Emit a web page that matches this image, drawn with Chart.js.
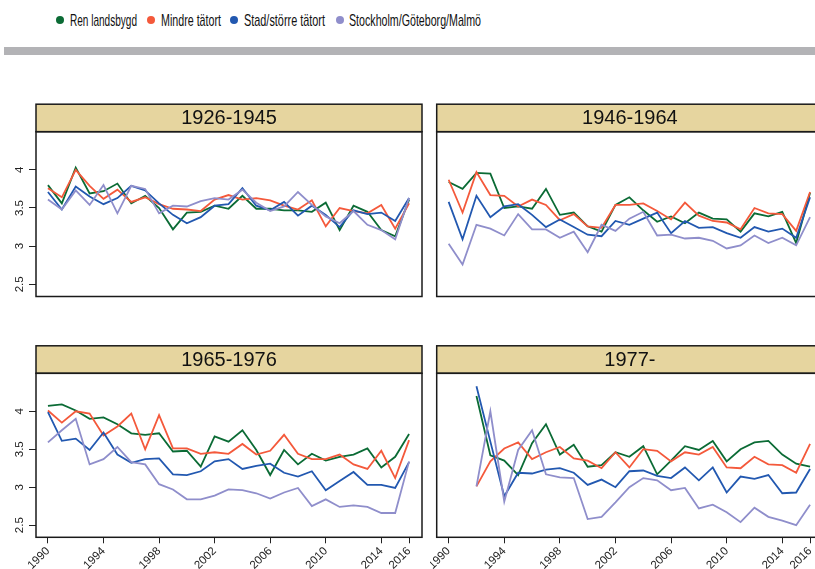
<!DOCTYPE html>
<html><head><meta charset="utf-8">
<script src="https://cdn.jsdelivr.net/npm/chart.js@4"></script>
<style>
html,body{margin:0;padding:0;background:#fff;width:815px;height:569px;overflow:hidden;position:relative}
#legend{position:absolute;left:0;top:0;width:815px;height:40px;font-family:"Liberation Sans Narrow","Liberation Sans",sans-serif;font-size:17px;color:#111;white-space:nowrap}
.dot{position:absolute;width:8px;height:8px;border-radius:50%;top:16px}
.txt{position:absolute;top:10px;line-height:21px;transform-origin:0 50%;display:inline-block}
#bar{position:absolute;left:4px;top:47px;width:811px;height:8px;background:#b3b3b6}
.wrap{position:absolute}
</style></head>
<body>
<div id="legend"></div>
<div id="bar"></div>
<div class="wrap" style="left:0;top:95px"><canvas id="c1" width="430" height="215"></canvas></div>
<div class="wrap" style="left:430px;top:95px"><canvas id="c2" width="400" height="215"></canvas></div>
<div class="wrap" style="left:0;top:335px"><canvas id="c3" width="430" height="234"></canvas></div>
<div class="wrap" style="left:430px;top:335px"><canvas id="c4" width="400" height="234"></canvas></div>
<script>
// ---- data ----
const YEARS = [1990,1991,1992,1993,1994,1995,1996,1997,1998,1999,2000,2001,2002,2003,2004,2005,2006,2007,2008,2009,2010,2011,2012,2013,2014,2015,2016];
const X_TICKS = [1990,1994,1998,2002,2006,2010,2014,2016];
const Y_TICKS = [2.5,3,3.5,4];
const SERIES_NAMES = ["Ren landsbygd","Mindre tätort","Stad/större tätort","Stockholm/Göteborg/Malmö"];
const PANEL_TITLES = ["1926-1945","1946-1964","1965-1976","1977-"];

const p1926_ren   = [3.80,3.56,4.03,3.69,3.72,3.82,3.56,3.66,3.50,3.22,3.44,3.45,3.53,3.49,3.66,3.49,3.49,3.47,3.47,3.45,3.57,3.21,3.53,3.45,3.21,3.13,3.61];
const p1926_mindre= [3.76,3.64,4.00,3.79,3.62,3.74,3.58,3.64,3.55,3.49,3.48,3.46,3.61,3.67,3.61,3.63,3.60,3.53,3.48,3.60,3.26,3.50,3.46,3.43,3.54,3.23,3.56];
const p1926_stad  = [3.71,3.48,3.78,3.65,3.55,3.63,3.79,3.73,3.56,3.41,3.30,3.38,3.53,3.55,3.76,3.53,3.47,3.58,3.40,3.53,3.41,3.25,3.47,3.42,3.44,3.33,3.63];
const p1926_storst= [3.61,3.48,3.73,3.54,3.80,3.43,3.79,3.75,3.43,3.53,3.52,3.59,3.63,3.61,3.74,3.57,3.46,3.52,3.71,3.54,3.39,3.30,3.46,3.28,3.21,3.09,3.63];

const p1946_ren   = [3.84,3.75,3.96,3.95,3.50,3.52,3.49,3.75,3.41,3.44,3.26,3.19,3.54,3.64,3.47,3.32,3.39,3.30,3.44,3.36,3.35,3.19,3.43,3.39,3.45,3.04,3.70];
const p1946_mindre= [3.87,3.44,3.97,3.67,3.66,3.52,3.61,3.54,3.34,3.42,3.26,3.24,3.54,3.54,3.56,3.46,3.35,3.57,3.40,3.33,3.31,3.22,3.50,3.43,3.42,3.20,3.71];
const p1946_stad  = [3.58,3.09,3.66,3.38,3.52,3.55,3.41,3.25,3.35,3.25,3.15,3.13,3.33,3.28,3.36,3.44,3.17,3.33,3.24,3.25,3.17,3.11,3.25,3.19,3.23,3.11,3.64];
const p1946_storst= [3.03,2.76,3.28,3.23,3.14,3.42,3.22,3.22,3.11,3.19,2.92,3.28,3.20,3.36,3.45,3.14,3.15,3.10,3.11,3.07,2.97,3.01,3.14,3.04,3.11,3.01,3.38];

const p1965_ren   = [4.07,4.09,4.01,3.90,3.92,3.83,3.71,3.69,3.71,3.47,3.48,3.27,3.67,3.60,3.75,3.49,3.16,3.49,3.30,3.44,3.35,3.40,3.43,3.51,3.26,3.40,3.70];
const p1965_mindre= [4.01,3.85,4.00,3.97,3.68,3.80,3.97,3.50,3.95,3.51,3.51,3.44,3.46,3.44,3.57,3.43,3.48,3.69,3.44,3.37,3.37,3.43,3.30,3.24,3.48,3.12,3.62];
const p1965_stad  = [3.99,3.61,3.64,3.49,3.72,3.43,3.32,3.37,3.38,3.17,3.16,3.21,3.34,3.37,3.24,3.28,3.31,3.19,3.14,3.21,2.96,3.08,3.20,3.03,3.03,2.99,3.33];
const p1965_storst= [3.59,3.75,3.90,3.30,3.37,3.53,3.33,3.30,3.04,2.97,2.84,2.84,2.89,2.97,2.96,2.92,2.85,2.93,2.99,2.75,2.84,2.74,2.76,2.74,2.66,2.66,3.34];

const p1977_ren   = [null,null,4.20,3.42,3.35,3.16,3.58,3.83,3.43,3.56,3.27,3.29,3.46,3.40,3.54,3.17,3.35,3.54,3.49,3.61,3.34,3.50,3.59,3.61,3.43,3.31,3.27];
const p1977_mindre= [null,null,3.01,3.34,3.51,3.59,3.37,3.46,3.53,3.38,3.35,3.25,3.46,3.26,3.50,3.48,3.34,3.46,3.43,3.53,3.26,3.25,3.40,3.30,3.29,3.19,3.57];
const p1977_stad  = [null,null,4.33,3.60,2.88,3.19,3.18,3.23,3.25,3.19,3.03,3.10,3.00,3.21,3.22,3.15,3.12,3.26,3.09,3.26,2.93,3.14,3.11,3.16,2.92,2.93,3.24];
const p1977_storst= [null,null,3.01,4.00,2.81,3.49,3.75,3.17,3.13,3.12,2.58,2.61,2.80,3.00,3.12,3.09,2.96,2.99,2.72,2.77,2.67,2.54,2.73,2.61,2.56,2.50,2.77];

// ---- styles / layout ----
const COLORS = ["#0b6b35","#f4593b","#2258b0","#8f8ecb"];
const FONT = '"Liberation Sans", Arial, sans-serif';
const X_MIN = 1989.14, X_MAX = 2016.93, Y_MIN = 2.34, Y_MAX = 4.5;
const LEG_DOT_X = [56, 147, 230, 336];
const LEG_TXT_X = [70, 161, 244, 349];
const LEG_TXT_W = [67, 60, 81, 132];

// legend
const leg = document.getElementById('legend');
SERIES_NAMES.forEach((n,i)=>{
  const d = document.createElement('span'); d.className='dot';
  d.style.background = COLORS[i]; d.style.left = LEG_DOT_X[i] + 'px';
  const t = document.createElement('span'); t.className='txt'; t.textContent = n;
  t.style.left = LEG_TXT_X[i] + 'px';
  leg.appendChild(d); leg.appendChild(t);
  const w = t.getBoundingClientRect().width;
  t.style.transform = 'scaleX(' + (LEG_TXT_W[i] / w) + ')';
});

const stripPlugin = {
  id: 'strip',
  afterDraw(chart, args, opts) {
    const {ctx, chartArea: a} = chart;
    const h = 27.5;
    ctx.save();
    ctx.fillStyle = '#e6d59f';
    ctx.fillRect(a.left, a.top - h, a.right - a.left, h);
    ctx.strokeStyle = '#1a1a1a'; ctx.lineWidth = 1.5;
    ctx.strokeRect(a.left, a.top - h, a.right - a.left, h);
    ctx.strokeRect(a.left, a.top, a.right - a.left, a.bottom - a.top);
    ctx.fillStyle = '#111';
    ctx.font = '20px ' + FONT;
    ctx.textAlign = 'center'; ctx.textBaseline = 'middle';
    ctx.fillText(opts.text, (a.left + a.right) / 2, a.top - h / 2 + 1);
    ctx.restore();
  }
};

function makeChart(id, title, series, showX, showY, pad, xH) {
  const datasets = series.map((vals, i) => ({
    label: SERIES_NAMES[i],
    data: YEARS.map((yr, j) => ({x: yr, y: vals[j]})),
    borderColor: COLORS[i],
    backgroundColor: COLORS[i],
    borderWidth: 1.8,
    pointRadius: 0,
    tension: 0,
    spanGaps: false,
    order: 4 - i
  }));
  new Chart(document.getElementById(id), {
    type: 'line',
    data: {datasets},
    plugins: [stripPlugin],
    options: {
      responsive: false,
      animation: false,
      events: [],
      layout: {padding: pad},
      plugins: {legend: {display: false}, tooltip: {enabled: false}, strip: {text: title}},
      scales: {
        x: {
          type: 'linear', min: X_MIN, max: X_MAX, display: showX,
          afterBuildTicks: s => { s.ticks = X_TICKS.map(v => ({value: v})); },
          afterFit: s => { if (showX) { s.height = xH; } s.paddingLeft = 0; s.paddingRight = 0; },
          ticks: {minRotation: 45, maxRotation: 45, autoSkip: false, padding: 1,
                  font: {family: FONT, size: 11.5}, color: '#222', callback: v => String(v)},
          grid: {drawOnChartArea: false, tickLength: 6, color: '#222', lineWidth: 1},
          border: {display: false}
        },
        y: {
          type: 'linear', min: Y_MIN, max: Y_MAX, display: showY,
          afterBuildTicks: s => { s.ticks = Y_TICKS.map(v => ({value: v})); },
          afterFit: s => { if (showY) { s.width = 36; } s.paddingTop = 0; s.paddingBottom = 0; },
          ticks: {minRotation: 90, maxRotation: 90, crossAlign: 'center', padding: 1,
                  font: {family: FONT, size: 11.5}, color: '#222', callback: v => String(v)},
          grid: {drawOnChartArea: false, tickLength: 7, color: '#222', lineWidth: 1},
          border: {display: false}
        }
      }
    }
  });
}

makeChart('c1', PANEL_TITLES[0], [p1926_ren,p1926_mindre,p1926_stad,p1926_storst], false, true, {top:36.7,right:8,bottom:13.5,left:0}, 0);
makeChart('c2', PANEL_TITLES[1], [p1946_ren,p1946_mindre,p1946_stad,p1946_storst], false, false, {top:36.7,right:7,bottom:13.5,left:6.7}, 0);
makeChart('c3', PANEL_TITLES[2], [p1965_ren,p1965_mindre,p1965_stad,p1965_storst], true, true, {top:38.3,right:8,bottom:0,left:0}, 31.7);
makeChart('c4', PANEL_TITLES[3], [p1977_ren,p1977_mindre,p1977_stad,p1977_storst], true, false, {top:38.3,right:7,bottom:0,left:6.7}, 31.7);
</script>
</body></html>
